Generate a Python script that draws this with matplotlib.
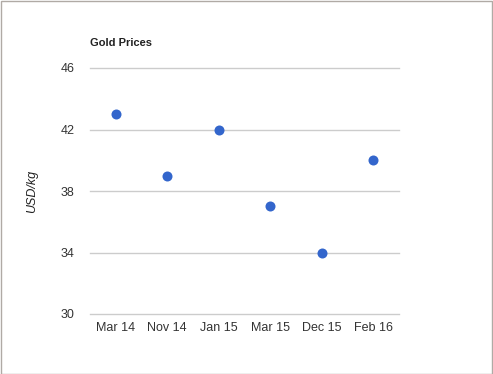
import matplotlib
matplotlib.use("Agg")
import matplotlib.pyplot as plt
from matplotlib.patches import Rectangle

categories = ["Mar 14", "Nov 14", "Jan 15", "Mar 15", "Dec 15", "Feb 16"]
prices = [43, 39, 42, 37, 34, 40]
y_ticks = [30, 34, 38, 42, 46]

plt.rcParams['font.family'] = ['Liberation Sans', 'DejaVu Sans']

fig = plt.figure(figsize=(4.93, 3.74), dpi=100)
ax = fig.add_axes([90/493, 1-314/374, 309/493, (314-68)/374])

x = list(range(len(categories)))
ax.scatter(x, prices, s=52, color='#3366cc', zorder=3, linewidths=0)

ax.set_xlim(-0.5, len(categories)-0.5)
ax.set_ylim(30, 46)
ax.set_yticks(y_ticks)
ax.set_xticks(x)
ax.set_xticklabels(categories)
ax.grid(axis='y', color='#cccccc', linewidth=1)
for gl in ax.get_ygridlines():
    gl.set_clip_on(False)
ax.set_axisbelow(True)
for s in ax.spines.values():
    s.set_visible(False)
ax.tick_params(length=0, labelsize=9, labelcolor='#333333')
ax.tick_params(axis='y', pad=11)
ax.tick_params(axis='x', pad=6)
ax.set_ylabel('USD/kg', fontsize=9, style='italic', color='#222222', labelpad=16)
ax.set_title('Gold Prices', loc='left', fontsize=8, fontweight='bold', color='#222222', pad=16)

fig.patches.append(Rectangle((0.5/493, 0.5/374), 1-1.5/493, 1-1.5/374, transform=fig.transFigure,
                             fill=False, edgecolor='#b0aaa5', linewidth=1))

fig.savefig('out.png', dpi=100)
